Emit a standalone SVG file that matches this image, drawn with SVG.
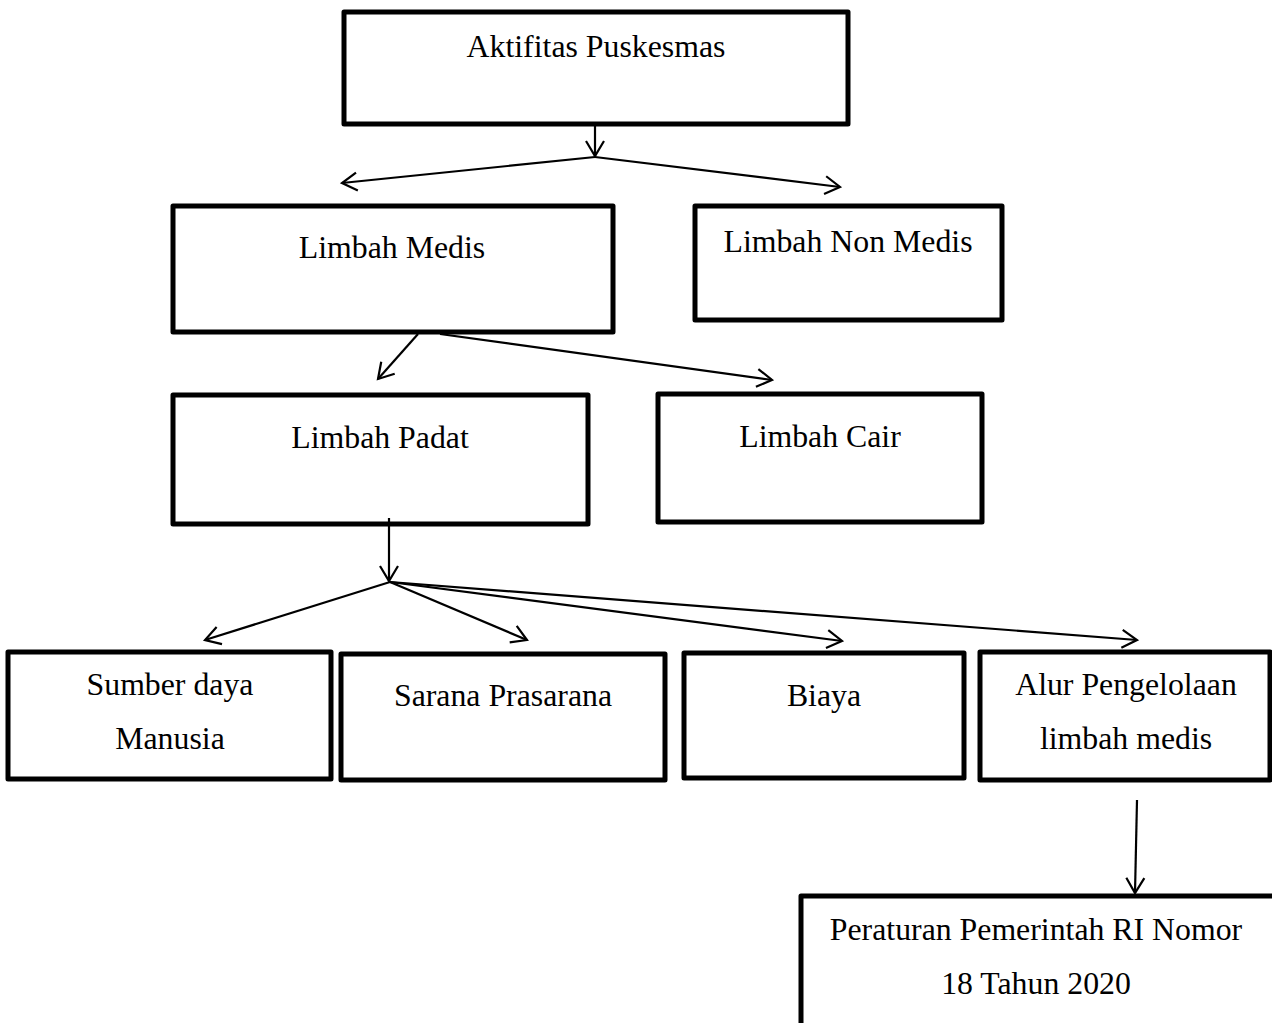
<svg xmlns="http://www.w3.org/2000/svg" width="1272" height="1023" viewBox="0 0 1272 1023">
<style>
.box{fill:#fff;stroke:#000;stroke-width:5;stroke-linejoin:round}
.lbl{font-family:"Liberation Serif","Times New Roman",serif;font-size:31.8px;fill:#000;text-anchor:middle}
.con{stroke:#000;stroke-width:2.2;fill:none;marker-end:url(#ah)}
</style>
<defs>
<marker id="ah" markerUnits="userSpaceOnUse" markerWidth="24" markerHeight="24" viewBox="-20 -12 24 24" refX="0" refY="0" orient="auto">
<path d="M-15,-9 L0,0 L-15,9" fill="none" stroke="#000" stroke-width="2.2"/>
</marker>
</defs>
<rect width="1272" height="1023" fill="#fff"/>
<g id="n1"><rect class="box" x="344" y="12" width="504" height="112"/><text class="lbl" x="596" y="57">Aktifitas Puskesmas</text></g>
<g id="n2"><rect class="box" x="173" y="206" width="440" height="126"/><text class="lbl" x="392" y="258">Limbah Medis</text></g>
<g id="n3"><rect class="box" x="695" y="206" width="307" height="114"/><text class="lbl" x="848" y="252">Limbah Non Medis</text></g>
<g id="n4"><rect class="box" x="173" y="395" width="415" height="129"/><text class="lbl" x="380" y="448">Limbah Padat</text></g>
<g id="n5"><rect class="box" x="658" y="394" width="324" height="128"/><text class="lbl" x="820" y="447">Limbah Cair</text></g>
<g id="n6"><rect class="box" x="8" y="652" width="323" height="127"/><text class="lbl" x="170" y="695">Sumber daya</text><text class="lbl" x="170" y="749">Manusia</text></g>
<g id="n7"><rect class="box" x="341" y="654" width="324" height="126"/><text class="lbl" x="503" y="706">Sarana Prasarana</text></g>
<g id="n8"><rect class="box" x="684" y="653" width="280" height="125"/><text class="lbl" x="824" y="706">Biaya</text></g>
<g id="n9"><rect class="box" x="980" y="652" width="290" height="128"/><text class="lbl" x="1126" y="695">Alur Pengelolaan</text><text class="lbl" x="1126" y="749">limbah medis</text></g>
<g id="n10"><rect class="box" x="801" y="896" width="480" height="140"/><text class="lbl" x="1036" y="940">Peraturan Pemerintah RI Nomor</text><text class="lbl" x="1036" y="994">18 Tahun 2020</text></g>
<g id="connectors">
<line class="con" x1="595" y1="124" x2="595" y2="156"/>
<line class="con" x1="595" y1="157" x2="342" y2="183"/>
<line class="con" x1="595" y1="157" x2="840" y2="187"/>
<line class="con" x1="418" y1="334" x2="378" y2="379"/>
<line class="con" x1="440" y1="334" x2="772" y2="380"/>
<line class="con" x1="389" y1="518" x2="389" y2="581"/>
<line class="con" x1="390" y1="582" x2="205" y2="640"/>
<line class="con" x1="390" y1="582" x2="527" y2="640"/>
<line class="con" x1="390" y1="582" x2="842" y2="641"/>
<line class="con" x1="390" y1="582" x2="1137" y2="640"/>
<line class="con" x1="1137" y1="800" x2="1135" y2="893"/>
</g>
</svg>
